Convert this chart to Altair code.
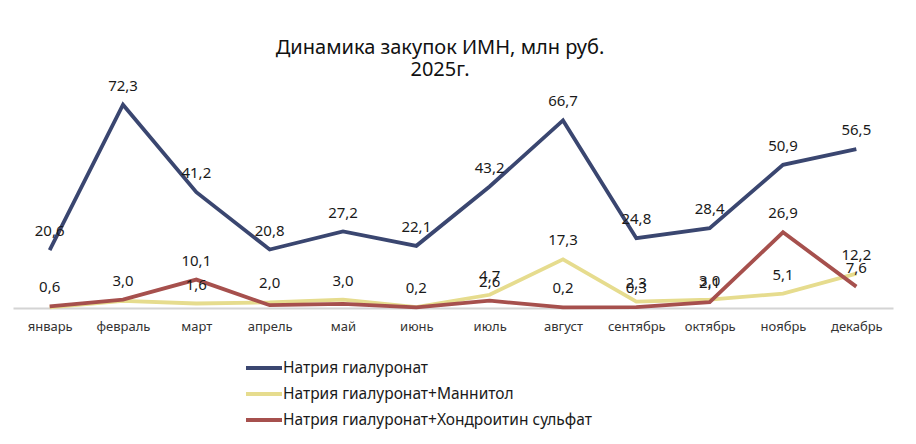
import altair as alt
import pandas as pd

months = ["январь", "февраль", "март", "апрель", "май", "июнь", "июль",
          "август", "сентябрь", "октябрь", "ноябрь", "декабрь"]
series_names = ["Натрия гиалуронат", "Натрия гиалуронат+Маннитол",
                "Натрия гиалуронат+Хондроитин сульфат"]
hyaluronate = [20.6, 72.3, 41.2, 20.8, 27.2, 22.1, 43.2, 66.7, 24.8, 28.4, 50.9, 56.5]
mannitol = [0.2, 2.5, 1.6, 2.0, 3.0, 0.3, 4.7, 17.3, 2.3, 3.0, 5.1, 12.2]
chondroitin = [0.6, 3.0, 10.1, 1.0, 1.5, 0.2, 2.6, 0.2, 0.3, 2.1, 26.9, 7.6]
hyaluronate_shown = [True] * 12
mannitol_shown = [False, False, True, True, True, False, True, True, True, True, True, True]
chondroitin_shown = [True, True, True, False, False, True, True, True, True, True, True, True]
colors = ["#3A4670", "#E6DC8E", "#A6504D"]

rows = []
for name, vals, shown in zip(series_names,
                             [hyaluronate, mannitol, chondroitin],
                             [hyaluronate_shown, mannitol_shown, chondroitin_shown]):
    for m, v, s in zip(months, vals, shown):
        rows.append({"month": m, "series": name, "value": v,
                     "label": f"{v:.1f}".replace(".", ",") if s else ""})
df = pd.DataFrame(rows)

FONT = "Noto Sans"

x = alt.X("month:N", sort=months, title=None,
          scale=alt.Scale(type="point", padding=0.5),
          axis=alt.Axis(labelAngle=0, ticks=False, domainColor="#D4D4D4",
                        domainWidth=2, labelFontSize=13, labelColor="#333333",
                        labelFont=FONT, labelPadding=12, grid=False))
y = alt.Y("value:Q", scale=alt.Scale(domain=[0, 80], nice=False), axis=None)

color = alt.Color("series:N", sort=series_names,
                  scale=alt.Scale(domain=series_names, range=colors),
                  legend=alt.Legend(title=None, orient="none", legendX=243, legendY=277,
                                    symbolType="M-3,0H3", symbolSize=144,
                                    symbolStrokeWidth=4, labelFontSize=15.5,
                                    labelFont=FONT, labelColor="#1a1a1a",
                                    labelLimit=500, rowPadding=9, labelOffset=11))

lines = alt.Chart(df).mark_line(strokeWidth=3.8, strokeJoin="miter").encode(
    x=x, y=y, color=color,
    order=alt.Order("month_idx:Q")
).transform_calculate(month_idx="indexof(%s, datum.month)" % str(months))

labels = alt.Chart(df).mark_text(dy=-19, fontSize=15, font=FONT, color="#1a1a1a").encode(
    x=x, y=y, text="label:N"
)

chart = alt.layer(lines, labels).properties(
    width=880, height=225,
    padding={"left": 13, "top": 83, "right": 23, "bottom": 136},
    autosize=alt.AutoSizeParams(type="none"),
    title=alt.TitleParams(["Динамика закупок ИМН, млн руб.", "2025г."],
                          fontSize=20, font=FONT, fontWeight="normal",
                          color="#111111", anchor="middle", lineHeight=22,
                          offset=-1, dx=-13),
).configure_view(stroke=None)

chart.save("out.html", embed_options={"renderer": "svg", "actions": False})
